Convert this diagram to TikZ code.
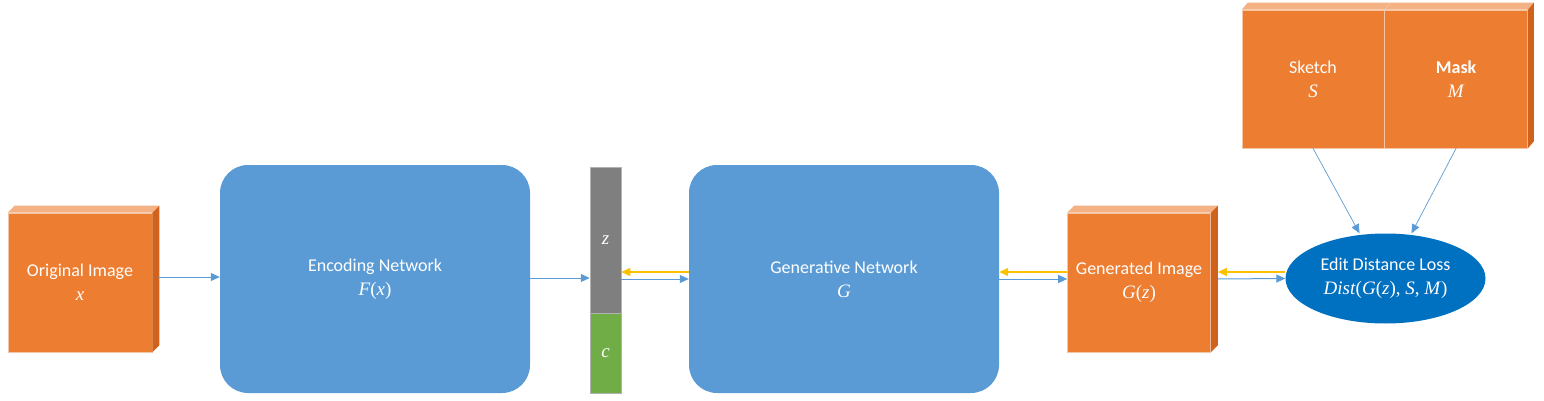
\documentclass[tikz,border=0pt]{standalone}
\usepackage{fontspec}
\setmainfont{Carlito}
\newfontfamily\cmb{Liberation Serif}
\usetikzlibrary{arrows.meta,positioning,shapes.geometric}
\definecolor{imgorange}{HTML}{ED7D31}
\definecolor{imgtop}{HTML}{F4B183}
\definecolor{imgside}{HTML}{D0621B}
\definecolor{imgline}{HTML}{F2C6A6}
\definecolor{netblue}{HTML}{5B9BD5}
\definecolor{lossblue}{HTML}{0070C0}
\definecolor{zgray}{HTML}{7F7F7F}
\definecolor{cgreen}{HTML}{70AD47}
\definecolor{gradyellow}{HTML}{FFC000}
\newcommand{\mtxt}[1]{{\cmb\fontsize{19}{24}\selectfont #1}}
\tikzset{
  img_n/.style = {rectangle, fill=imgorange, draw=imgline, line width=0.6pt,
    text=white, align=center, inner sep=0pt, font=\fontsize{18}{24}\selectfont},
  img_top/.style = {fill=imgtop},
  img_side/.style = {fill=imgside},
  net_n/.style = {rectangle, rounded corners=28pt, fill=netblue, text=white,
    align=center, inner sep=0pt, minimum width=310pt, minimum height=228pt,
    font=\fontsize{18}{24}\selectfont},
  vec_z/.style = {rectangle, fill=zgray, draw=gray!60, line width=0.5pt,
    text=white, inner sep=0pt, minimum width=31pt, minimum height=146pt},
  vec_c/.style = {vec_z, fill=cgreen, minimum height=80pt},
  loss_n/.style = {ellipse, fill=lossblue, text=white, align=center,
    inner sep=0pt, minimum width=200pt, minimum height=90pt,
    font=\fontsize{18}{24}\selectfont},
  fwd_a/.style = {->, draw=netblue, line width=1pt},
  back_a/.style = {->, draw=gradyellow, line width=1.3pt}
}
\begin{document}
\begin{tikzpicture}[x=1pt,y=-1pt,>={Triangle[length=9pt,width=8pt]}]
\useasboundingbox (0,0) rectangle (1544,401);
\node [img_n, minimum width=144pt, minimum height=139pt] (orig) at (80,282.5)
  {Original Image\\ \mtxt{\textit{x}}};
\fill [img_top] (orig.north west) -- ([shift={(7,-7)}]orig.north west)
  -- ([shift={(7,-7)}]orig.north east) -- (orig.north east) -- cycle;
\fill [img_side] (orig.north east) -- ([shift={(7,-7)}]orig.north east)
  -- ([shift={(7,-7)}]orig.south east) -- (orig.south east) -- cycle;
\node [net_n] (enc) at (375,279) {Encoding Network\\ \mtxt{\textit{F}(\textit{x})}};
\node [vec_z] (zv) at (605.5,240) {\mtxt{\textit{z}}};
\node [vec_c, below=0pt of zv] (cv) {\mtxt{\textit{c}}};
\node [net_n] (gen) at (844,279) {Generative Network\\ \mtxt{\textit{G}}};
\node [img_n, minimum width=143pt, minimum height=139pt] (gimg) at (1139,282.5)
  {Generated Image\\ \mtxt{\textit{G}(\textit{z})}};
\fill [img_top] (gimg.north west) -- ([shift={(7,-7)}]gimg.north west)
  -- ([shift={(7,-7)}]gimg.north east) -- (gimg.north east) -- cycle;
\fill [img_side] (gimg.north east) -- ([shift={(7,-7)}]gimg.north east)
  -- ([shift={(7,-7)}]gimg.south east) -- (gimg.south east) -- cycle;
\node [img_n, minimum width=142pt, minimum height=138pt] (sketch) at (1313,79)
  {Sketch\\ \mtxt{\textit{S}}};
\node [img_n, minimum width=143pt, minimum height=138pt, right=0pt of sketch] (mask)
  {\textbf{Mask}\\ \mtxt{\textit{M}}};
\fill [img_top] (sketch.north west) -- ([shift={(6,-7)}]sketch.north west)
  -- ([shift={(6,-7)}]mask.north east) -- (mask.north east) -- cycle;
\draw [imgline, line width=0.6pt] (sketch.north east) -- ([shift={(6,-7)}]sketch.north east);
\fill [img_side] (mask.north east) -- ([shift={(6,-7)}]mask.north east)
  -- ([shift={(6,-7)}]mask.south east) -- (mask.south east) -- cycle;
\node [loss_n] (loss) at (1385.5,278.5) {Edit Distance Loss\\
  \mtxt{\textit{Dist}(\textit{G}(\textit{z}), \textit{S}, \textit{M})}};
\draw [fwd_a] ([xshift=6pt,yshift=5.5pt]orig.east) -- ([yshift=2pt]enc.west);
\draw [fwd_a] ([yshift=1pt]enc.east) -- ([yshift=-38pt]zv.west);
\draw [fwd_a] ([yshift=-39pt]zv.east) -- (gen.west);
\draw [back_a] ([yshift=7pt]gen.west) -- ([yshift=-32pt]zv.east);
\draw [fwd_a] (gen.east) -- ([yshift=3.5pt]gimg.west);
\draw [back_a] ([yshift=10.5pt]gimg.west) -- ([yshift=7pt]gen.east);
\draw [fwd_a] ([xshift=7pt,yshift=3.5pt]gimg.east) -- (loss.west);
\draw [back_a] ([yshift=6.5pt]loss.west) -- ([xshift=7pt,yshift=10.5pt]gimg.east);
\draw [fwd_a, line width=0.7pt] (sketch.south) -- ([xshift=-26pt]loss.north);
\draw [fwd_a, line width=0.7pt] (mask.south) -- ([xshift=26pt]loss.north);
\end{tikzpicture}
\end{document}
